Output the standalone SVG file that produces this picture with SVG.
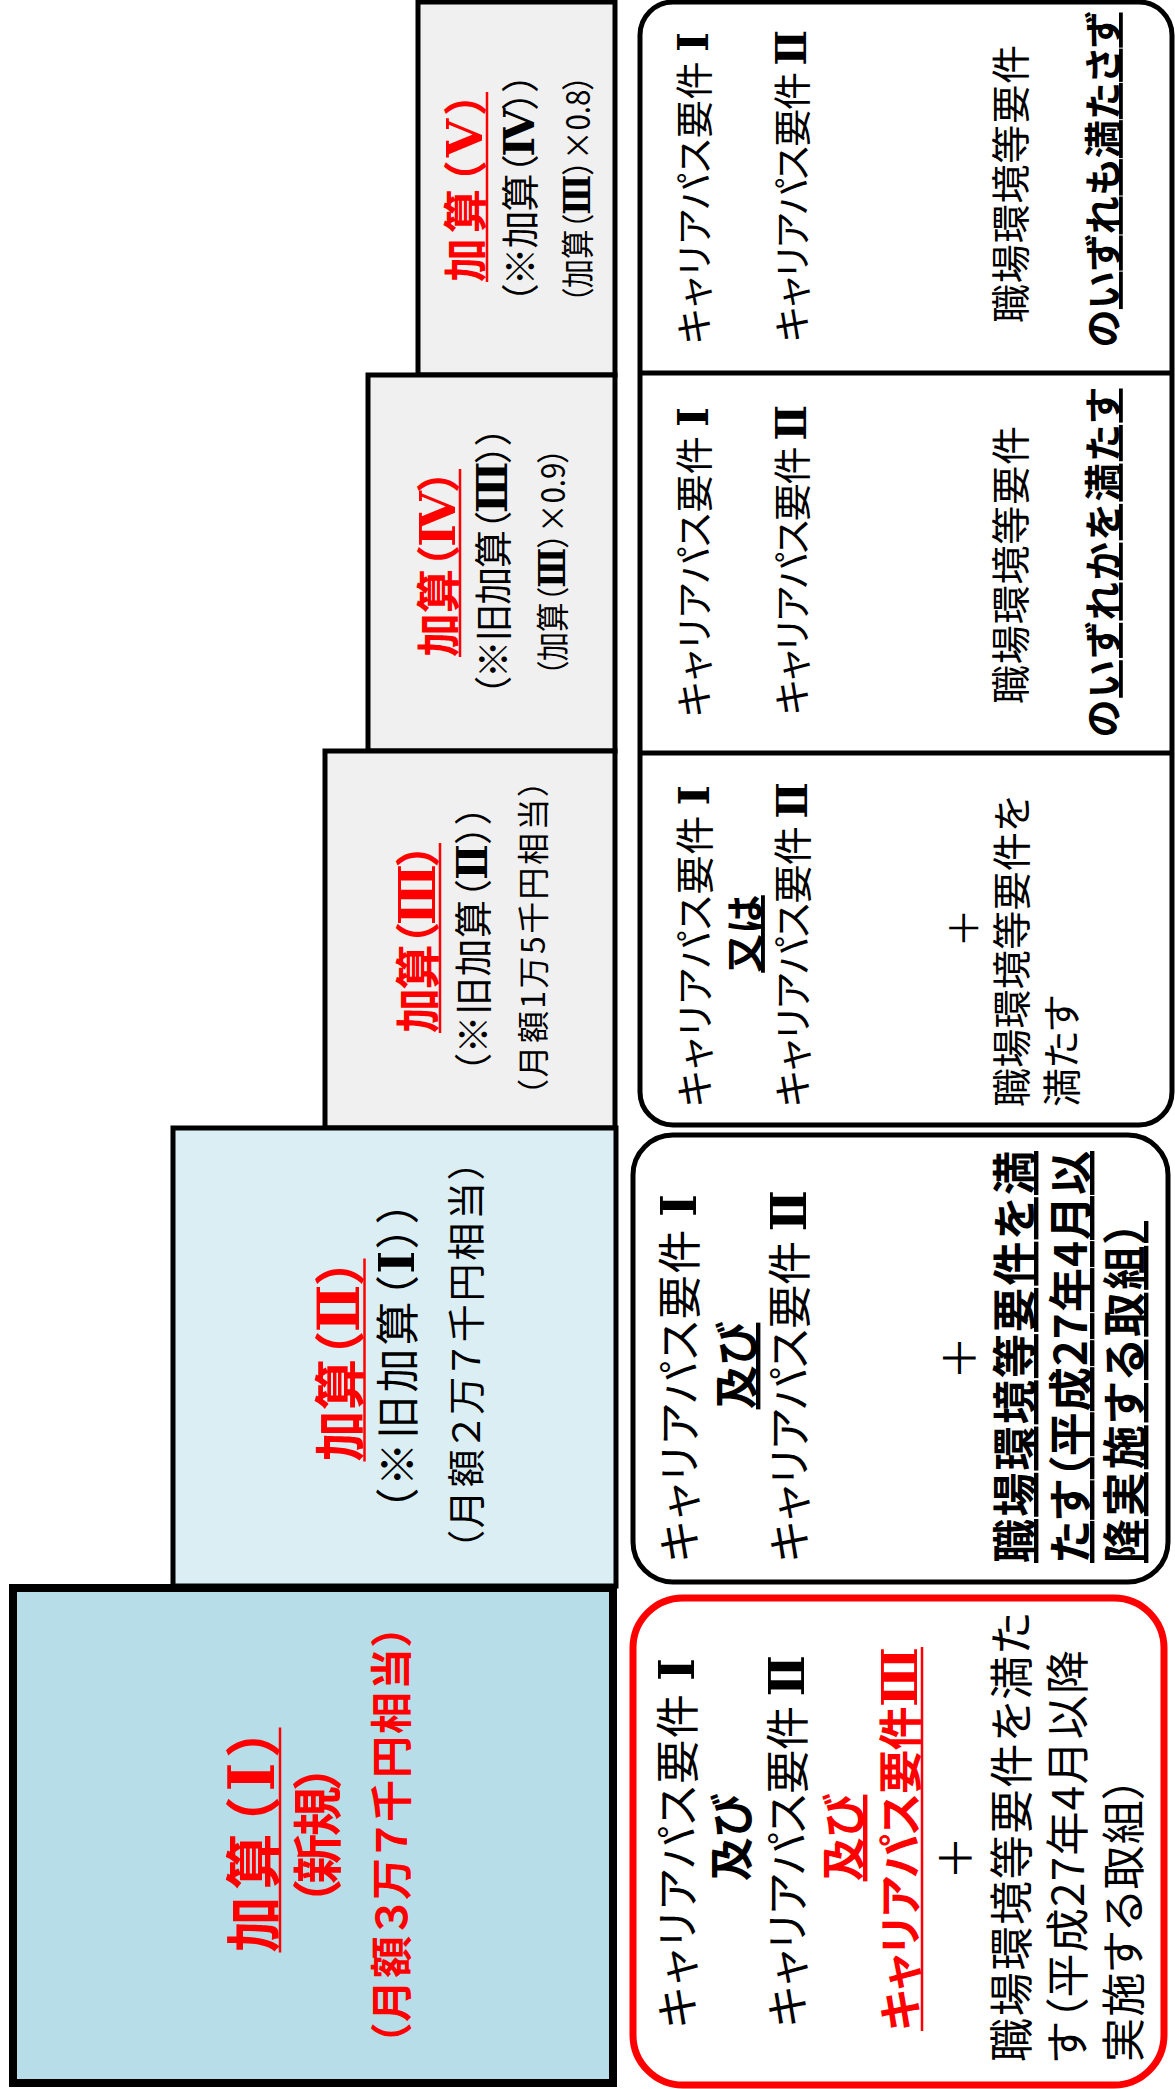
<svg xmlns="http://www.w3.org/2000/svg" width="1175" height="2089" viewBox="0 0 1175 2089">
<style>
text{font-family:"Noto Sans CJK JP","Noto Sans CJK SC",sans-serif;font-feature-settings:"palt";fill:#000}
.b{font-weight:700}
.r{fill:#ff0000}
.u{text-decoration:underline}
.m{text-anchor:middle}
.n{font-family:"DejaVu Serif","Liberation Serif",serif;font-weight:700;font-size:1.12em}
.l1{fill:#b7dee8;stroke:#000;stroke-width:8}
.l2{fill:#dbeef4;stroke:#000;stroke-width:5}
.l3{fill:#f0f0f0;stroke:#000;stroke-width:5}
.rb{fill:#fff;stroke:#000;stroke-width:5}
.rr{fill:#fff;stroke:#ff0000;stroke-width:7}
.dv{stroke:#000;stroke-width:5}
.ul{stroke:#ff0000;stroke-width:2.5}
</style>
<rect width="1175" height="2089" fill="#fff"/>
<g id="connectors"/>
<g id="add5">
<rect class="l3" x="418" y="2" width="197" height="373"/>
<text class="b r m" font-size="44" textLength="190" transform="translate(482 187) rotate(-90)">加算（<tspan class="n">Ⅴ</tspan>）</text>
<line class="ul" x1="487" y1="92" x2="487" y2="282"/>
<text class="m" font-size="38" textLength="231" transform="translate(534 188) rotate(-90)">（※加算（<tspan class="n">Ⅳ</tspan>））</text>
<text class="m" font-size="33" textLength="228" lengthAdjust="spacingAndGlyphs" transform="translate(590 189) rotate(-90)">（加算（<tspan class="n">Ⅲ</tspan>）×0.8）</text>
</g>
<g id="add4">
<rect class="l3" x="368" y="375" width="247" height="376"/>
<text class="b r m" font-size="44" textLength="188" transform="translate(455 563) rotate(-90)">加算（<tspan class="n">Ⅳ</tspan>）</text>
<line class="ul" x1="460" y1="469" x2="460" y2="657"/>
<text class="m" font-size="38" textLength="270" transform="translate(507 561) rotate(-90)">（※旧加算（<tspan class="n">Ⅲ</tspan>））</text>
<text class="m" font-size="33" textLength="228" lengthAdjust="spacingAndGlyphs" transform="translate(565 562) rotate(-90)">（加算（<tspan class="n">Ⅲ</tspan>）×0.9）</text>
</g>
<g id="add3">
<rect class="l3" x="325" y="751" width="290" height="377"/>
<text class="b r m" font-size="45" textLength="190" transform="translate(435 938) rotate(-90)">加算（<tspan class="n">Ⅲ</tspan>）</text>
<line class="ul" x1="440" y1="843" x2="440" y2="1033"/>
<text class="m" font-size="38" textLength="268" transform="translate(487 939) rotate(-90)">（※旧加算（<tspan class="n">Ⅱ</tspan>））</text>
<text class="m" font-size="32" textLength="316" transform="translate(545 938) rotate(-90)">（月額1万5千円相当）</text>
</g>
<g id="add2">
<rect class="l2" x="173" y="1128" width="443" height="458"/>
<text class="b r m" font-size="51" textLength="203" transform="translate(359 1360) rotate(-90)">加算（<tspan class="n">Ⅱ</tspan>）</text>
<line class="ul" x1="364.5" y1="1258.5" x2="364.5" y2="1461.5"/>
<text class="m" font-size="44" textLength="310" transform="translate(414 1356) rotate(-90)">（※旧加算（<tspan class="n">Ⅰ</tspan>））</text>
<text class="m" font-size="38" textLength="390" transform="translate(480 1355) rotate(-90)">（月額２万７千円相当）</text>
</g>
<g id="add1">
<rect class="l1" x="13" y="1588" width="600" height="495"/>
<text class="b r m" font-size="56" textLength="225" transform="translate(274 1840) rotate(-90)">加算（<tspan class="n">Ⅰ</tspan>）</text>
<line class="ul" x1="280" y1="1727.5" x2="280" y2="1952.5"/>
<text class="b r m" font-size="50" textLength="142" transform="translate(336 1835) rotate(-90)">（新規）</text>
<text class="b r m" font-size="42" textLength="420" transform="translate(407 1835) rotate(-90)">（月額３万７千円相当）</text>
</g>
<g id="req1">
<rect class="rr" x="633" y="1598" width="531" height="487" rx="50"/>
<text class="m" font-size="44" textLength="370" transform="translate(694 1843) rotate(-90)">キャリアパス要件 <tspan class="n">Ⅰ</tspan></text>
<text class="b m" font-size="44" transform="translate(748 1838) rotate(-90)">及び</text>
<text class="m" font-size="44" textLength="372" transform="translate(804 1841) rotate(-90)">キャリアパス要件 <tspan class="n">Ⅱ</tspan></text>
<text class="b r u m" font-size="44" transform="translate(860 1838) rotate(-90)">及び</text>
<text class="b r m" font-size="44" textLength="384" transform="translate(917 1839) rotate(-90)">キャリアパス要件<tspan class="n">Ⅲ</tspan></text>
<line class="ul" x1="922" y1="1647" x2="922" y2="2031"/>
<text class="m" font-size="44" transform="translate(972 1858) rotate(-90)">＋</text>
<text font-size="44" textLength="450" transform="translate(1028 2062) rotate(-90)">職場環境等要件を満た</text>
<text font-size="44" textLength="412" transform="translate(1084 2062) rotate(-90)">す（平成27年4月以降</text>
<text font-size="44" textLength="285" transform="translate(1140 2062) rotate(-90)">実施する取組）</text>
</g>
<g id="req2">
<rect class="rb" x="633" y="1135" width="535" height="447" rx="40"/>
<text font-size="44" textLength="368" transform="translate(696 1562) rotate(-90)">キャリアパス要件 <tspan class="n">Ⅰ</tspan></text>
<text class="b u m" font-size="44" transform="translate(753 1366) rotate(-90)">及び</text>
<text font-size="44" textLength="372" transform="translate(806 1562) rotate(-90)">キャリアパス要件 <tspan class="n">Ⅱ</tspan></text>
<text class="m" font-size="44" transform="translate(976 1358) rotate(-90)">＋</text>
<text class="b u" font-size="44" textLength="412" transform="translate(1031 1563) rotate(-90)">職場環境等要件を満</text>
<text class="b u" font-size="44" textLength="412" transform="translate(1087 1563) rotate(-90)">たす（平成27年4月以</text>
<text class="b u" font-size="44" textLength="342" transform="translate(1141 1563) rotate(-90)">降実施する取組）</text>
</g>
<g id="req345">
<rect class="rb" x="640" y="2" width="532" height="1123" rx="33"/>
<line class="dv" x1="640" y1="373" x2="1172" y2="373"/>
<line class="dv" x1="640" y1="753" x2="1172" y2="753"/>
</g>
<g id="req3">
<text font-size="39" textLength="322" transform="translate(709 1107) rotate(-90)">キャリアパス要件 <tspan class="n">Ⅰ</tspan></text>
<text class="b u m" font-size="39" transform="translate(759 934) rotate(-90)">又は</text>
<text font-size="39" textLength="325" transform="translate(807 1107) rotate(-90)">キャリアパス要件 <tspan class="n">Ⅱ</tspan></text>
<text class="m" font-size="39" transform="translate(978 928) rotate(-90)">＋</text>
<text font-size="39" textLength="311" transform="translate(1026 1107) rotate(-90)">職場環境等要件を</text>
<text font-size="39" transform="translate(1076 1107) rotate(-90)">満たす</text>
</g>
<g id="req4">
<text class="m" font-size="38" textLength="310" transform="translate(708 562) rotate(-90)">キャリアパス要件 <tspan class="n">Ⅰ</tspan></text>
<text class="m" font-size="38" textLength="310" transform="translate(806 560) rotate(-90)">キャリアパス要件 <tspan class="n">Ⅱ</tspan></text>
<text class="m" font-size="39" textLength="278" transform="translate(1025 565) rotate(-90)">職場環境等要件</text>
<text class="b m" font-size="38" textLength="349" transform="translate(1117 563) rotate(-90)">の<tspan class="u">いずれかを満たす</tspan></text>
</g>
<g id="req5">
<text class="m" font-size="38" textLength="312" transform="translate(708 188) rotate(-90)">キャリアパス要件 <tspan class="n">Ⅰ</tspan></text>
<text class="m" font-size="38" textLength="312" transform="translate(806 186) rotate(-90)">キャリアパス要件 <tspan class="n">Ⅱ</tspan></text>
<text class="m" font-size="39" textLength="278" transform="translate(1025 184) rotate(-90)">職場環境等要件</text>
<text class="b m" font-size="38" textLength="335" transform="translate(1117 180) rotate(-90)">の<tspan class="u">いずれも満たさず</tspan></text>
</g>
</svg>
